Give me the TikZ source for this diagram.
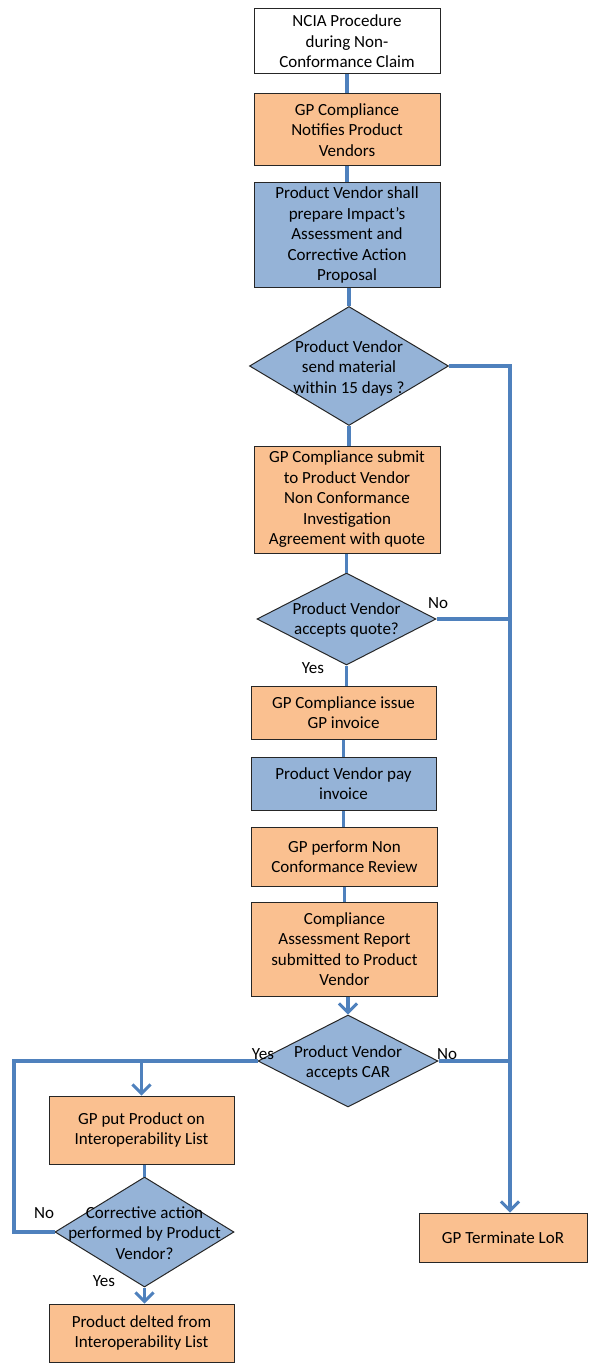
\documentclass[tikz,border=0pt]{standalone}
\usepackage{fontspec}
\setmainfont{Carlito}
\usetikzlibrary{shapes.geometric,arrows.meta}
\definecolor{boxorange}{RGB}{250,192,144}
\definecolor{boxblue}{RGB}{149,179,215}
\definecolor{linkblue}{RGB}{79,129,189}

\begin{document}
\begin{tikzpicture}[x=1pt, y=-1pt,
    font=\fontsize{17}{20.5}\selectfont,
    box/.style={rectangle, draw=black!85, line width=1pt, align=center, inner sep=0pt, minimum width=186pt},
    orangebox/.style={box, fill=boxorange},
    bluebox/.style={box, fill=boxblue},
    decision/.style={diamond, draw=black!85, line width=1pt, fill=boxblue, inner sep=0pt},
    link/.style={draw=linkblue, line width=3.5pt},
    arrowlink/.style={link, -{Straight Barb[length=9pt, width=18pt, line width=3pt]}}]
    \useasboundingbox (0,0) rectangle (592,1367);

    % main column
    \node[box, fill=white, minimum height=65pt] (start) at (347,41.5) {NCIA Procedure\\during Non-\\Conformance Claim};
    \node[orangebox, minimum height=72pt] (notify) at (347,130) {GP Compliance\\Notifies Product\\Vendors};
    \node[bluebox, minimum height=104pt] (prepare) at (347,235) {Product Vendor shall\\prepare Impact’s\\Assessment and\\Corrective Action\\Proposal};
    \node[decision, minimum width=199pt, minimum height=119pt] (sendmat) at (349,366) {};
    \node[align=center] (sendmattext) at (349,368) {Product Vendor\\send material\\within 15 days ?};
    \node[orangebox, minimum height=107pt] (submit) at (347,499.5) {GP Compliance submit\\to Product Vendor\\Non Conformance\\Investigation\\Agreement with quote};
    \node[decision, minimum width=179pt, minimum height=92pt] (accquote) at (346.5,619) {};
    \node[align=center] (accquotetext) at (346.5,620) {Product Vendor\\accepts quote?};
    \node[orangebox, minimum width=185pt, minimum height=53pt] (invoice) at (343.5,712.5) {GP Compliance issue\\GP invoice};
    \node[bluebox, minimum width=185pt, minimum height=53pt] (pay) at (343.5,783.5) {Product Vendor pay\\invoice};
    \node[orangebox, minimum height=59pt] (review) at (344.5,856.5) {GP perform Non\\Conformance Review};
    \node[orangebox, minimum height=94pt] (report) at (344.5,949) {Compliance\\Assessment Report\\submitted to Product\\Vendor};
    \node[decision, minimum width=180pt, minimum height=92pt] (acccar) at (348,1061) {};
    \node[align=center] (acccartext) at (348,1063) {Product Vendor\\accepts CAR};

    % left branch
    \node[orangebox, minimum width=185pt, minimum height=68pt] (putlist) at (141.5,1130) {GP put Product on\\Interoperability List};
    \node[decision, minimum width=179pt, minimum height=110pt] (corract) at (144.5,1232) {};
    \node[orangebox, minimum width=185pt, minimum height=58pt] (deleted) at (141.5,1333) {Product delted from\\Interoperability List};

    % right branch
    \node[orangebox, minimum width=168pt, minimum height=49pt] (terminate) at (503,1237.5) {GP Terminate LoR};

    % lines
    \draw[link] (start.south) -- (start.south |- notify.north);
    \draw[link] (notify.south) -- (notify.south |- prepare.north);
    \draw[link] (sendmat.north |- prepare.south) -- (sendmat.north);
    \draw[link] (sendmat.south) -- (sendmat.south |- submit.north);
    \draw[link] (accquote.north |- submit.south) -- (accquote.north);
    \draw[link] (accquote.south) -- (accquote.south |- invoice.north);
    \draw[link] (invoice.south) -- (pay.north);
    \draw[link] (pay.south) -- (pay.south |- review.north);
    \draw[link] (review.south) -- (report.north);
    \draw[arrowlink] (acccar.north |- report.south) -- (acccar.north);

    \coordinate (rail) at (510,366);
    \draw[arrowlink] (sendmat.east) -- (rail) -- (rail |- terminate.north);
    \draw[link] (accquote.east) -- (accquote.east -| rail);
    \draw[link] (acccar.east) -- (acccar.east -| rail);

    \coordinate (loop) at (14,1061);
    \draw[link] (corract.west) -- (corract.west -| loop) -- (loop) -- (acccar.west);
    \draw[arrowlink] (putlist.north |- acccar.west) -- (putlist.north);
    \draw[link] (corract.north |- putlist.south) -- (corract.north);
    \draw[arrowlink] (corract.south) -- (corract.south |- deleted.north);

    % text on top
    \node[align=center] (corracttext) at (144.5,1233) {Corrective action\\performed by Product\\Vendor?};

    % yes / no
    \node (noquote) at (438,603) {No};
    \node (yesquote) at (313,668) {Yes};
    \node (yescar) at (263,1054) {Yes};
    \node (nocar) at (447,1054) {No};
    \node (nocorr) at (44,1213) {No};
    \node (yescorr) at (104,1281) {Yes};
\end{tikzpicture}
\end{document}
